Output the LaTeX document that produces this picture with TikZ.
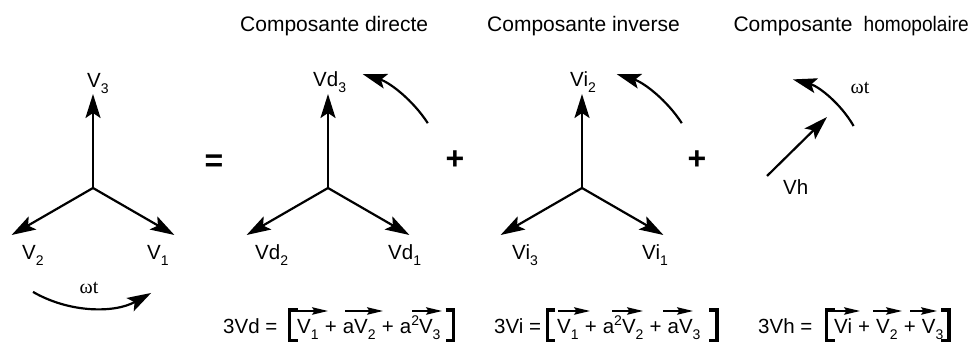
\documentclass[tikz,border=0pt]{standalone}
\usepackage{fontspec}
\setmainfont{Liberation Sans}
\newfontfamily\serifw{Liberation Serif}
\usetikzlibrary{arrows.meta,calc}
\newcommand\sub[1]{\raisebox{-5.5pt}{\fontsize{14}{14}\selectfont #1}}
\newcommand\sups[1]{\raisebox{8pt}{\fontsize{14}{14}\selectfont #1}}
\newcommand\plusop{\ +\ \null}
\begin{document}
\begin{tikzpicture}[x=1pt,y=1pt,
  phasor/.style={line width=2.2pt,-{Stealth[length=24pt,width=15pt,inset=5pt]}},
  rot/.style={line width=2.2pt,-{Stealth[length=24pt,width=15pt,inset=5pt]}},
  varr/.style={line width=1.4pt,-{Stealth[length=16pt,width=7.5pt,inset=2.5pt]}},
  brk/.style={line width=3.2pt,line cap=butt,line join=miter},
  lbl/.style={inner sep=0pt,anchor=base west,font=\fontsize{20.5}{24}\selectfont},
  ttl/.style={inner sep=0pt,anchor=base west,font=\fontsize{21}{24}\selectfont},
  ftxt/.style={inner sep=0pt,anchor=base west,font=\fontsize{20.5}{24}\selectfont},
  om/.style={inner sep=0pt,font=\serifw\fontsize{20}{24}\selectfont},
  op/.style={inner sep=0pt,anchor=base,font=\bfseries\fontsize{32}{36}\selectfont}]
\useasboundingbox (0,0) rectangle (972,342);

% titles
\node[ttl] (t1) at (240,310) {Composante directe};
\node[ttl] (t2) at (487,310) {Composante inverse};
\node[ttl,anchor=base east] (t3) at (969,310) {Composante\hspace{11pt}\scalebox{0.91}[1]{homopolaire}};

% star 1
\coordinate (c1) at (93,154);
\coordinate (c1u) at (93,248);
\coordinate (c1l) at (11.6,107);
\coordinate (c1r) at (174.4,107);
\draw[phasor] (c1) -- (c1u);
\draw[phasor] (c1) -- (c1l);
\draw[phasor] (c1) -- (c1r);
\node[lbl] (v3) at (87,254) {V\sub{3}};
\node[lbl] (v2) at (22,82) {V\sub{2}};
\node[lbl] (v1) at (147,82) {V\sub{1}};
\draw[rot] ($(c1)+(240:120)$) arc[start angle=240,end angle=299,radius=120];
\node[om] (w1) at (89,54) {ωt};

% equals / plus
\node[op] (eq) at (214,170) {=};
\node[op] (pl1) at (455,172) {+};
\node[op] (pl2) at (697,172) {+};

% star 2 (direct)
\coordinate (c2) at (328,154);
\coordinate (c2u) at (328,248);
\coordinate (c2l) at (246.6,107);
\coordinate (c2r) at (409.4,107);
\draw[phasor] (c2) -- (c2u);
\draw[phasor] (c2) -- (c2l);
\draw[phasor] (c2) -- (c2r);
\node[lbl] (vd3) at (313,255) {Vd\sub{3}};
\node[lbl] (vd2) at (255,82) {Vd\sub{2}};
\node[lbl] (vd1) at (388,82) {Vd\sub{1}};
\draw[rot] ($(c2)+(33:119)$) arc[start angle=33,end angle=73,radius=119];

% star 3 (inverse)
\coordinate (c3) at (582,154);
\coordinate (c3u) at (582,248);
\coordinate (c3l) at (500.6,107);
\coordinate (c3r) at (663.4,107);
\draw[phasor] (c3) -- (c3u);
\draw[phasor] (c3) -- (c3l);
\draw[phasor] (c3) -- (c3r);
\node[lbl] (vi2) at (570,255) {Vi\sub{2}};
\node[lbl] (vi3) at (512,82) {Vi\sub{3}};
\node[lbl] (vi1) at (642,82) {Vi\sub{1}};
\draw[rot] ($(c3)+(33:119)$) arc[start angle=33,end angle=73,radius=119];

% homopolar
\coordinate (c4) at (767,166);
\coordinate (c4t) at (827,225);
\draw[phasor] (c4) -- (c4t);
\node[lbl] (vh) at (783,147) {Vh};
\draw[rot] ($(c4)+(30:100)$) arc[start angle=30,end angle=75,radius=100];
\node[om] (w2) at (860,254) {ωt};

% formula 1
\node[ftxt] (f1a) at (223,8) {3Vd =};
\node[ftxt] (f1t1) at (297,8) {V\sub{1}};
\node[ftxt] (f1p1) at (f1t1.base east) {\plusop};
\node[ftxt] (f1t2) at (f1p1.base east) {aV\sub{2}};
\node[ftxt] (f1p2) at (f1t2.base east) {\plusop};
\node[ftxt] (f1t3) at (f1p2.base east) {a\sups{2}V\sub{3}};
\draw[brk] (297.5,32) -- (289.6,32) -- (289.6,1) -- (297.5,1);
\draw[brk] (445.5,32) -- (453.4,32) -- (453.4,1) -- (445.5,1);
\draw[varr] (298,31) -- (328,31);
\draw[varr] (345,31) -- (383,31);
\draw[varr] (412,31) -- (442,31);

% formula 2
\node[ftxt] (f2a) at (494,8) {3Vi =};
\node[ftxt] (f2t1) at (557,8) {V\sub{1}};
\node[ftxt] (f2p1) at (f2t1.base east) {\plusop};
\node[ftxt] (f2t2) at (f2p1.base east) {a\sups{2}V\sub{2}};
\node[ftxt] (f2p2) at (f2t2.base east) {\plusop};
\node[ftxt] (f2t3) at (f2p2.base east) {aV\sub{3}};
\draw[brk] (555,32) -- (547.1,32) -- (547.1,1) -- (555,1);
\draw[brk] (709,32) -- (717,32) -- (717,1) -- (709,1);
\draw[varr] (558,31) -- (590,31);
\draw[varr] (612,31) -- (643,31);
\draw[varr] (663,31) -- (693,31);

% formula 3
\node[ftxt] (f3a) at (758,8) {3Vh =};
\node[ftxt] (f3t1) at (834,8) {Vi};
\node[ftxt] (f3p1) at (f3t1.base east) {\plusop};
\node[ftxt] (f3t2) at (f3p1.base east) {V\sub{2}};
\node[ftxt] (f3p2) at (f3t2.base east) {\plusop};
\node[ftxt] (f3t3) at (f3p2.base east) {V\sub{3}};
\draw[brk] (834.5,32) -- (826.6,32) -- (826.6,1) -- (834.5,1);
\draw[brk] (941,32) -- (949,32) -- (949,1) -- (941,1);
\draw[varr] (832,31) -- (860,31);
\draw[varr] (873,31) -- (902,31);
\draw[varr] (910,31) -- (937,31);
\end{tikzpicture}
\end{document}
